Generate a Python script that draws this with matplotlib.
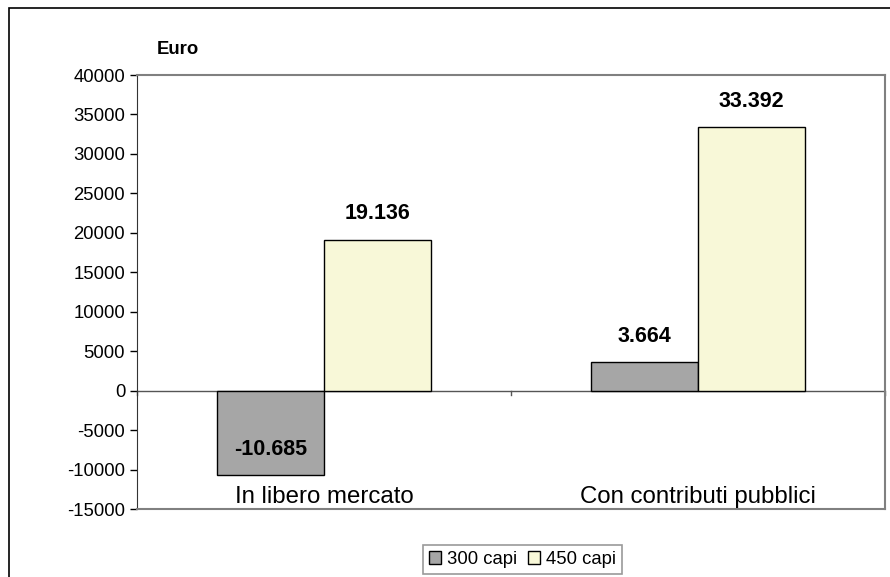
import matplotlib.pyplot as plt
import numpy as np
from matplotlib.patches import Rectangle

plt.rcParams['font.family'] = ['Liberation Sans', 'DejaVu Sans']
plt.rcParams['axes.unicode_minus'] = False

# data
categories = ['In libero mercato', 'Con contributi pubblici']
series_names = ['300 capi', '450 capi']
capi_300 = [-10685, 3664]
capi_450 = [19136, 33392]
value_labels_300 = ['-10.685', '3.664']
value_labels_450 = ['19.136', '33.392']

fig = plt.figure(figsize=(8.9, 5.77), dpi=100)
W, H = 890, 577
ax = fig.add_axes([137 / W, 1 - 509 / H, (885 - 137) / W, (509 - 75) / H])

# outer chart border
fig.patches.append(Rectangle((8.5 / W, -0.1), 1.0, 1 - 8 / H + 0.1,
                             transform=fig.transFigure, fill=False,
                             edgecolor='black', linewidth=1.2))

x = np.arange(len(categories))
w = 0.286
cols = ['#A6A6A6', '#F8F8D8']
b1 = ax.bar(x - w / 2, capi_300, w, color=cols[0], edgecolor='black',
            linewidth=1, label=series_names[0], zorder=3)
b2 = ax.bar(x + w / 2, capi_450, w, color=cols[1], edgecolor='black',
            linewidth=1, label=series_names[1], zorder=3)

# value labels: offset upward from the bar end (inside for negative bars)
for bars, labs in [(b1, value_labels_300), (b2, value_labels_450)]:
    for r, lab in zip(bars, labs):
        yend = r.get_y() + r.get_height()
        ax.annotate(lab, (r.get_x() + r.get_width() / 2, yend),
                    xytext=(0, 18.5), textcoords='offset points',
                    ha='center', va='center', fontsize=15.5, fontweight='bold',
                    zorder=4)

ax.set_xlim(-0.5, 1.5)
ax.set_ylim(-15000, 40000)
ax.set_yticks(np.arange(-15000, 40001, 5000))
ax.tick_params(axis='y', labelsize=13.3, length=5, direction='out', width=1)
ax.set_xticks([])

# zero line with category ticks
ax.axhline(0, color='#555555', linewidth=1, zorder=2)
for xt in [-0.5, 0.5, 1.5]:
    ax.plot([xt, xt], [0, -600], color='#555555', linewidth=1, clip_on=False)

for xi, c in zip(x, categories):
    ax.text(xi, -13500, c, ha='center', va='center', fontsize=17.3)

for s in ['top', 'right', 'bottom']:
    ax.spines[s].set_color('#808080')
    ax.spines[s].set_linewidth(1.5)
ax.spines['left'].set_color('#333333')

fig.text(178 / W, 1 - 50 / H, 'Euro', ha='center', va='center',
         fontsize=13.3, fontweight='bold')

leg = fig.legend(loc='center', bbox_to_anchor=(522.5 / W, 1 - 559.5 / H),
                 ncol=2, fontsize=13.3, frameon=True, fancybox=False,
                 edgecolor='#808080', handlelength=0.65, handleheight=0.65,
                 handletextpad=0.3, columnspacing=0.6, borderpad=0.35,
                 borderaxespad=0)
leg.get_frame().set_linewidth(1.2)

fig.savefig('out.png', dpi=100)
